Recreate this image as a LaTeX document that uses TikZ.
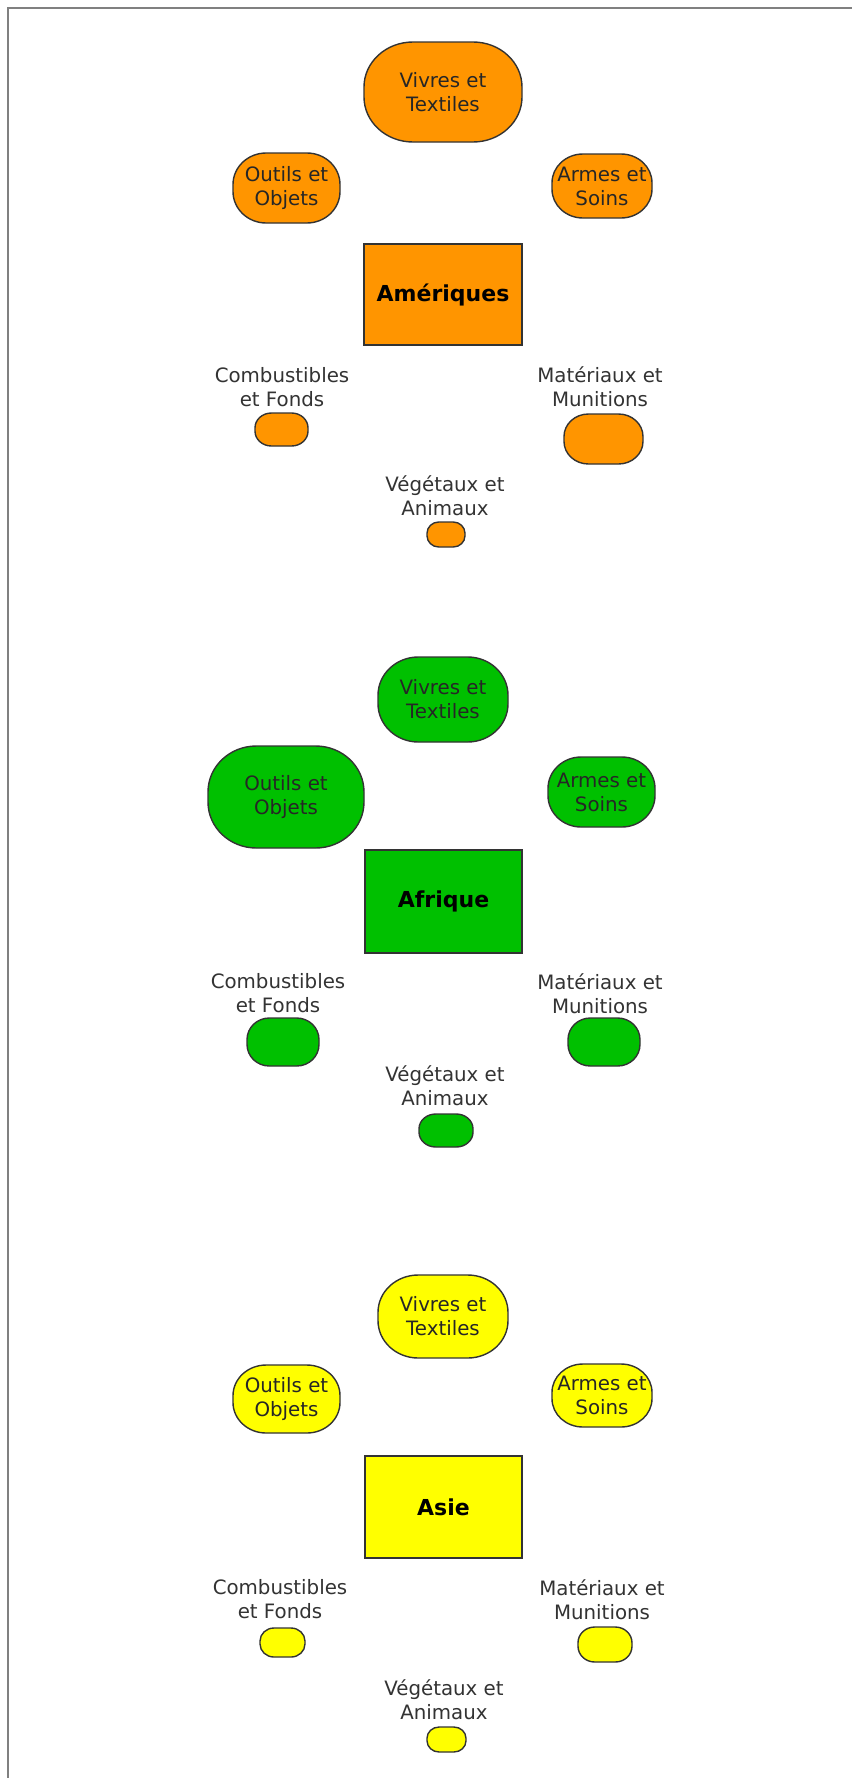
\documentclass[tikz,border=0pt]{standalone}
\usepackage{fontspec}
\setmainfont{DejaVu Sans}
\definecolor{cAm}{HTML}{FF9500}
\definecolor{cAf}{HTML}{00C000}
\definecolor{cAs}{HTML}{FFFF00}
\definecolor{txtgray}{HTML}{333333}
\definecolor{framegray}{HTML}{808080}
% #1 name, #2 fill colour, #3 cx, #4 cy, #5 width, #6 height, #7 text
\newcommand\pillnode[7]{%
  \pgfmathsetmacro\prx{0.31*#5}%
  \pgfmathsetmacro\pry{0.45*#6}%
  \path[pillline, fill=#2]
    ({#3-#5/2+\prx}, {#4-#6/2}) -- ({#3+#5/2-\prx}, {#4-#6/2})
    arc[start angle=90, end angle=0, x radius=\prx pt, y radius=\pry pt]
    -- ({#3+#5/2}, {#4+#6/2-\pry})
    arc[start angle=0, end angle=-90, x radius=\prx pt, y radius=\pry pt]
    -- ({#3-#5/2+\prx}, {#4+#6/2})
    arc[start angle=-90, end angle=-180, x radius=\prx pt, y radius=\pry pt]
    -- ({#3-#5/2}, {#4-#6/2+\pry})
    arc[start angle=180, end angle=90, x radius=\prx pt, y radius=\pry pt]
    -- cycle;
  \node[pilltext, minimum width=#5pt, minimum height=#6pt] (#1) at (#3,#4) {#7};%
}
\begin{document}
\begin{tikzpicture}[x=1pt,y=-1pt,
  pillline/.style={draw=black!80, line width=1.4pt},
  pilltext/.style={inner sep=0pt, align=center,
    font=\fontsize{19.8}{24}\selectfont, text=black!85},
  region/.style={draw=black!80, line width=1.4pt, inner sep=0pt, align=center,
    font=\fontsize{22}{26}\selectfont\bfseries, text=black,
    minimum width=157pt, minimum height=102pt},
  lbl/.style={inner sep=0pt, align=center, font=\fontsize{19.8}{24}\selectfont, text=txtgray}]
\useasboundingbox (0,0) rectangle (852,1778);
\fill[white] (0,0) rectangle (852,1778);
\coordinate (fTL) at (7.5,7.5);
\coordinate (fTR) at (852,7.5);
\coordinate (fBL) at (7.5,1778);
\draw[framegray, line width=2pt] (fBL) -- (fTL) -- (fTR);

% ---------------- Amériques ----------------
\pillnode{amViv}{cAm}{443}{92}{158}{100}{Vivres et\\Textiles}
\pillnode{amOut}{cAm}{286.5}{188}{107}{70}{Outils et\\Objets}
\pillnode{amArm}{cAm}{602}{186}{100}{64}{Armes et\\Soins}
\node[region, fill=cAm, minimum width=158pt, minimum height=101pt] (amR) at (443,294.5) {Amériques};
\node[lbl] (amComL) at (282,387) {Combustibles\\et Fonds};
\pillnode{amCom}{cAm}{281.5}{429.5}{53}{33}{}
\node[lbl] (amMatL) at (600,387) {Matériaux et\\Munitions};
\pillnode{amMat}{cAm}{603.5}{439}{79}{50}{}
\node[lbl] (amVegL) at (445,496) {Végétaux et\\Animaux};
\pillnode{amVeg}{cAm}{446}{534.5}{38}{25}{}

% ---------------- Afrique ----------------
\pillnode{afViv}{cAf}{443}{699.5}{130}{85}{Vivres et\\Textiles}
\pillnode{afOut}{cAf}{286}{797}{156}{102}{Outils et\\Objets}
\pillnode{afArm}{cAf}{601.5}{792}{107}{70}{Armes et\\Soins}
\node[region, fill=cAf, minimum width=157pt, minimum height=103pt] (afR) at (443.5,901.5) {Afrique};
\node[lbl] (afComL) at (278,993.5) {Combustibles\\et Fonds};
\pillnode{afCom}{cAf}{283}{1042}{72}{48}{}
\node[lbl] (afMatL) at (600,993.5) {Matériaux et\\Munitions};
\pillnode{afMat}{cAf}{604}{1042}{72}{48}{}
\node[lbl] (afVegL) at (445,1085.5) {Végétaux et\\Animaux};
\pillnode{afVeg}{cAf}{446}{1130.5}{54}{33}{}

% ---------------- Asie ----------------
\pillnode{asViv}{cAs}{443}{1316.5}{130}{83}{Vivres et\\Textiles}
\pillnode{asOut}{cAs}{286.5}{1399}{107}{68}{Outils et\\Objets}
\pillnode{asArm}{cAs}{602}{1395.5}{100}{63}{Armes et\\Soins}
\node[region, fill=cAs, minimum width=157pt, minimum height=102pt] (asR) at (443.5,1507) {Asie};
\node[lbl] (asComL) at (280,1599.5) {Combustibles\\et Fonds};
\pillnode{asCom}{cAs}{282.5}{1642.5}{45}{29}{}
\node[lbl] (asMatL) at (602,1599.5) {Matériaux et\\Munitions};
\pillnode{asMat}{cAs}{605}{1644.5}{54}{35}{}
\node[lbl] (asVegL) at (444,1699.5) {Végétaux et\\Animaux};
\pillnode{asVeg}{cAs}{446.5}{1739.5}{39}{25}{}
\end{tikzpicture}
\end{document}
